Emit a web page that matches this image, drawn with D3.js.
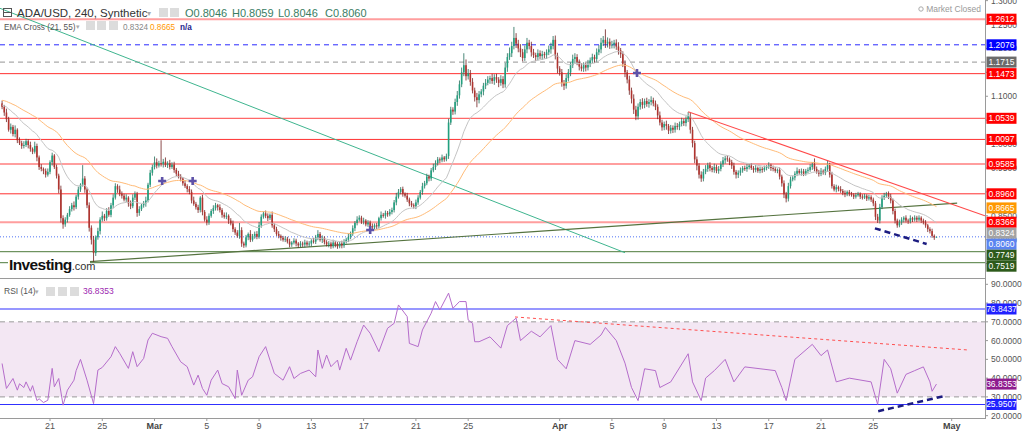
<!DOCTYPE html>
<html><head><meta charset="utf-8">
<script src="https://cdn.jsdelivr.net/npm/d3@7"></script>
<style>body{margin:0;background:#fff;overflow:hidden}svg{display:block;font-family:"Liberation Sans",Arial,sans-serif}</style>
</head><body><svg id="c" width="1024" height="431"></svg>
<script>
// ---------- DATA ----------
const firstCandle = Date.UTC(2022,1,17,8);
const stepHours = 4;
const firstOpen = 1.085;
const closes = [
1.078,1.066,1.052,1.030,1.036,1.021,1.030,1.008,1.002,0.996,
0.998,1.006,0.998,0.990,0.984,0.996,0.972,0.952,0.948,0.944,
0.936,0.942,0.962,0.976,0.952,0.934,0.905,0.845,0.832,0.842,
0.852,0.864,0.872,0.868,0.890,0.905,0.915,0.928,0.905,0.872,
0.825,0.800,0.772,0.805,0.818,0.842,0.850,0.845,0.860,0.852,
0.872,0.888,0.912,0.905,0.896,0.892,0.884,0.888,0.876,0.870,
0.888,0.896,0.856,0.864,0.872,0.876,0.882,0.915,0.940,0.952,
0.962,0.955,0.960,0.958,0.963,0.956,0.960,0.952,0.957,0.946,
0.938,0.932,0.928,0.918,0.912,0.906,0.900,0.882,0.875,0.868,
0.862,0.888,0.858,0.842,0.836,0.850,0.860,0.866,0.872,0.868,
0.862,0.852,0.848,0.850,0.840,0.834,0.822,0.815,0.808,0.820,
0.792,0.788,0.805,0.812,0.800,0.808,0.812,0.806,0.830,0.848,
0.855,0.850,0.845,0.852,0.830,0.822,0.812,0.808,0.804,0.800,
0.802,0.796,0.790,0.794,0.798,0.792,0.788,0.792,0.790,0.794,
0.790,0.792,0.798,0.796,0.805,0.812,0.800,0.804,0.795,0.790,
0.792,0.786,0.794,0.790,0.786,0.792,0.788,0.796,0.800,0.806,
0.812,0.824,0.835,0.842,0.846,0.838,0.840,0.832,0.836,0.828,
0.826,0.830,0.828,0.845,0.852,0.850,0.856,0.853,0.858,0.862,
0.878,0.890,0.900,0.906,0.896,0.892,0.884,0.876,0.872,0.870,
0.878,0.888,0.900,0.912,0.918,0.932,0.928,0.945,0.952,0.960,
0.968,0.966,0.972,0.968,0.975,1.045,1.072,1.068,1.088,1.102,
1.125,1.150,1.165,1.142,1.148,1.130,1.112,1.098,1.092,1.104,
1.110,1.122,1.128,1.135,1.138,1.132,1.140,1.135,1.128,1.136,
1.125,1.160,1.182,1.190,1.205,1.222,1.210,1.200,1.192,1.180,
1.198,1.212,1.205,1.192,1.186,1.182,1.190,1.184,1.188,1.186,
1.192,1.198,1.205,1.218,1.185,1.158,1.150,1.128,1.122,1.138,
1.150,1.165,1.178,1.182,1.172,1.162,1.158,1.165,1.160,1.168,
1.175,1.182,1.178,1.192,1.198,1.212,1.218,1.210,1.214,1.206,
1.208,1.212,1.204,1.196,1.188,1.168,1.150,1.135,1.112,1.095,
1.072,1.058,1.078,1.088,1.082,1.090,1.084,1.088,1.092,1.085,
1.078,1.060,1.045,1.035,1.042,1.038,1.028,1.034,1.030,1.038,
1.036,1.042,1.048,1.044,1.052,1.058,1.030,1.002,0.968,0.955,
0.936,0.928,0.942,0.948,0.956,0.950,0.946,0.952,0.944,0.948,
0.958,0.966,0.970,0.968,0.962,0.955,0.942,0.936,0.940,0.945,
0.950,0.948,0.952,0.955,0.950,0.946,0.950,0.944,0.948,0.946,
0.950,0.952,0.956,0.950,0.948,0.944,0.946,0.932,0.918,0.895,
0.886,0.912,0.926,0.930,0.938,0.944,0.940,0.943,0.938,0.944,
0.946,0.952,0.958,0.948,0.942,0.938,0.944,0.940,0.948,0.956,
0.936,0.912,0.905,0.910,0.906,0.902,0.898,0.895,0.900,0.896,
0.894,0.890,0.893,0.896,0.890,0.888,0.892,0.886,0.889,0.884,
0.876,0.848,0.840,0.868,0.888,0.892,0.896,0.890,0.882,0.860,
0.840,0.830,0.836,0.842,0.846,0.840,0.838,0.845,0.842,0.846,
0.842,0.846,0.840,0.836,0.830,0.822,0.818,0.808,0.8046,0.8060];
// wick extents beyond the body, in thousandths of a dollar
const wickUp = [
6,4,8,5,7,4,9,3,6,5, 8,5,4,7,3,9,5,4,6,3, 5,7,4,6,3,5,4,8,6,5, 4,6,5,8,4,6,3,28,5,4,
6,5,8,4,7,5,9,4,6,8, 5,7,6,4,8,5,4,7,3,6, 7,5,4,6,3,5,8,4,6,5, 12,8,5,48,6,9,4,7,5,6,
4,6,5,3,7,4,6,5,8,4, 5,3,6,4,7,5,4,6,5,3, 6,4,5,7,3,5,6,4,5,15, 6,4,5,3,8,4,5,6,7,5,
4,6,5,3,7,4,5,6,3,4, 5,4,6,3,5,4,3,5,4,6, 4,5,3,6,5,8,4,5,3,4, 5,4,6,3,5,4,6,5,4,7,
5,6,4,7,5,4,6,3,5,4, 6,4,5,3,7,4,5,4,6,5, 5,8,6,4,5,3,6,4,5,4, 6,5,4,7,5,6,4,5,7,6,
5,4,6,3,5,8,6,5,7,9, 8,10,25,12,9,7,8,6,9,7, 5,6,8,7,5,9,6,7,5,8, 6,10,8,12,9,23,10,8,9,7,
8,10,6,9,7,5,8,6,7,5, 6,8,7,8,9,6,5,7,6,8, 7,6,9,8,6,5,7,6,5,8, 6,7,5,8,9,10,8,22,9,7,
8,6,7,9,5,6,7,5,8,6, 9,8,7,6,8,5,7,6,8,5, 6,5,8,6,5,7,4,6,5,7, 6,5,7,5,6,9,8,6,5,6,
5,7,6,8,5,6,4,7,5,6, 6,7,5,6,4,5,6,4,5,6, 4,5,6,3,5,4,6,3,5,4, 5,4,6,3,5,4,3,5,4,6,
5,7,6,4,5,7,4,6,5,4, 5,6,4,12,5,4,6,3,5,10, 5,6,4,5,3,6,4,5,3,4, 4,3,5,4,3,5,4,3,5,4,
4,5,6,7,5,6,4,5,6,4, 5,4,6,5,3,5,4,6,3,5, 4,5,3,4,5,3,4,5,3,0];
const wickDn = [
5,7,6,4,8,5,7,6,4,6, 5,4,7,6,5,4,8,6,5,7, 6,4,5,7,4,6,8,9,9,5, 6,4,5,7,4,6,5,4,7,6,
8,10,18,6,5,7,4,6,5,4, 5,6,4,7,5,6,4,5,7,6, 4,5,8,6,4,5,7,4,5,6, 5,6,4,5,7,4,6,5,4,6,
5,4,6,5,4,7,5,6,4,5, 6,5,7,4,6,5,4,6,5,7, 5,6,4,5,7,4,6,5,4,6, 7,5,4,6,5,4,6,5,4,5,
4,5,6,4,5,6,4,5,6,4, 5,4,6,5,4,6,5,4,5,6, 4,5,6,4,5,6,4,7,5,4, 6,5,4,6,5,4,6,5,4,5,
5,4,6,5,4,5,6,4,5,6, 4,5,6,4,5,4,6,5,4,5, 5,6,4,5,6,4,5,6,4,5, 6,5,4,6,5,4,6,5,4,6,
5,6,4,5,4,6,5,7,6,8, 7,6,8,9,7,8,6,9,15,7, 6,8,7,5,9,6,8,7,9,6, 8,7,9,6,8,7,9,8,10,7,
6,8,7,9,6,8,7,6,8,7, 8,6,9,7,8,10,7,8,9,6, 7,8,6,9,7,8,6,7,8,6, 7,6,8,7,6,8,7,9,8,7,
6,8,7,9,8,7,10,8,9,10, 9,8,7,6,8,7,6,8,7,6, 7,8,6,7,6,8,7,6,7,6, 6,7,5,6,7,6,8,9,8,10,
8,7,6,5,6,7,5,6,5,6, 5,6,7,5,6,7,6,8,7,6, 5,4,6,5,4,6,5,4,5,6, 4,5,4,6,5,4,5,6,7,8,
8,6,5,4,6,5,4,6,5,4, 5,4,6,5,4,6,5,4,5,6, 6,5,4,6,5,4,5,6,4,5, 4,5,4,3,5,4,3,5,4,5,
6,7,5,6,4,5,4,5,6,7, 6,5,4,5,6,4,5,4,5,4, 5,4,5,4,5,6,5,4,5,0];
const emaSeeds = [1.082, 1.092];          // EMA(21), EMA(55) values just before the first candle
const emaLast = ["0.8324", "0.8665"];
// RSI(14): candle index and value
const rsiIdx = [0,2,5,7,8,10,11,13,14,16,17,19,21,23,24,26,28,30,33,34,36,39,42,44,46,50,52,54,58,60,62,65,67,69,73,76,78,82,85,88,90,92,94,96,99,101,104,107,108,110,113,115,118,121,123,125,129,132,134,137,141,144,145,147,149,151,154,155,158,160,163,166,169,173,177,180,182,186,187,191,193,197,199,201,205,207,210,213,214,216,217,219,
224,229,232,236,238,243,247,252,255,259,263,270,275,277,282,286,289,292,295,300,302,307,315,317,321,323,327,332,336,341,348,355,358,360,364,372,376,379,383,389,399,402,405,408,411,415,419,423,426,427,429];
const rsiVal = [47.8,34.5,39.8,33.6,37,35,38,33,36,28,29,27,28.2,45.2,35.4,39.8,25.6,33.6,38.9,44,50,38.9,26.4,44.3,45.7,51.4,56.8,53.2,45.2,54.1,46.1,50.5,60.3,63.9,62.1,61.2,56.8,48.7,46.1,36.3,41.6,34.5,30.9,38.9,44.3,37.1,35.4,29.1,44.3,30.9,38.9,40.7,51.4,56.8,49.6,42.5,38.9,46.1,39.8,42.5,44.3,40.7,55,45.2,52.3,46.1,49.6,44.3,55.9,49.6,59.4,68.3,63.9,54.1,66.6,69.2,79,72.8,58.5,56.8,65.7,74.6,80.8,76.4,85.3,77.2,80.8,80.8,71,69.2,59.4,59.4,
62,56,68,72,60,65,62,68,50,45,60,58,63,67,60,48,35,28,45,44,35,38,53,38,28,40,44,50,38,46,45,44,35,28,50,58,52,55,38,40,38,26,50,45,32,42,44,46,38,33,36.8353];
const rsiLast = "36.8353";
// horizontal price levels
const levelPrices = [1.2612, 1.2076, 1.1715, 1.1473, 1.0539, 1.0097, 0.9585, 0.8960, 0.8366, 0.7749, 0.7519];
const lastPrice = 0.8060;
const rsiLevels = [76.8437, 25.9507];
const rsiBand = [70, 30];
// drawn trend lines: [[date, value],[date, value]]
const teal = [[Date.UTC(2022,1,17,4), 1.284], [Date.UTC(2022,3,6,0), 0.7728]];
const support = [[Date.UTC(2022,1,24,1), 0.7540], [Date.UTC(2022,4,1,10), 0.8767]];
const resist = [[Date.UTC(2022,3,10,20), 1.0677], [Date.UTC(2022,4,3,13), 0.8502]];
const navyMain = [[Date.UTC(2022,3,25,3), 0.8238], [Date.UTC(2022,3,29,2), 0.7910]];
const rsiRed = [[Date.UTC(2022,2,28,14), 72.6], [Date.UTC(2022,4,2,6), 55]];
const rsiNavy = [[Date.UTC(2022,3,25,9), 22.4], [Date.UTC(2022,3,30,10), 30.4]];
// EMA cross markers
const crossDates = [Date.UTC(2022,2,1,14), Date.UTC(2022,2,3,22), Date.UTC(2022,2,17,12), Date.UTC(2022,3,6,22)];
const crossPrices = [0.9228, 0.9228, 0.8203, 1.1486];
// axes
const priceTicks = [0.75,0.80,0.85,0.90,0.95,1.00,1.05,1.10,1.15,1.20,1.25,1.30];
const rsiTicks = [20,30,40,50,60,70,80,90];
const xTickDates = ["2022-02-21","2022-02-25","2022-03-01","2022-03-05","2022-03-09","2022-03-13","2022-03-17","2022-03-21","2022-03-25","2022-04-01","2022-04-05","2022-04-09","2022-04-13","2022-04-17","2022-04-21","2022-04-25","2022-05-01"];
const xTickLabels = ["21","25","Mar","5","9","13","17","21","25","Apr","5","9","13","17","21","25","May"];
const header = {sym:"ADA/USD, 240, Synthetic", o:"0.8046", h:"0.8059", l:"0.8046", c:"0.8060"};

// ---------- LAYOUT ----------
const svg = d3.select("#c");
const R = 985, mainB = 278, rsiT = 279, rsiB = 418;
const x = d3.scaleUtc().domain([Date.UTC(2022,1,21), Date.UTC(2022,4,1)]).range([50, 951.7]);
const y = d3.scaleLinear().domain([0.7519, 1.0539]).range([262.7, 118.3]);
const yr = d3.scaleLinear().domain([25.9507, 76.8437]).range([404.5, 309.0]);

const defs = svg.append("defs");
defs.append("clipPath").attr("id","cm").append("rect").attr("x",0).attr("y",0).attr("width",R).attr("height",mainB);
defs.append("clipPath").attr("id","cr").append("rect").attr("x",0).attr("y",rsiT).attr("width",R).attr("height",rsiB-rsiT);

const candles = closes.map((c,i)=>{
  const o = i===0 ? firstOpen : closes[i-1];
  return {t:new Date(firstCandle + i*stepHours*3600e3), o, c,
    h: Math.max(o,c) + wickUp[i]/1000, l: Math.min(o,c) - wickDn[i]/1000};
});
function ema(vals, n, seed){ const a = 2/(n+1); let e = seed; return vals.map(v => (e = e + a*(v-e))); }
const e21 = ema(closes, 21, emaSeeds[0]);
const e55 = ema(closes, 55, emaSeeds[1]);

const gm = svg.append("g").attr("clip-path","url(#cm)");
const levelStyle = [
 {s:"rgba(255,40,40,0.45)", w:2},{s:"#2a2aff", w:1, d:"5,4"},{s:"#aaaaaa", w:1.2, d:"5,4"},{s:"#ff3030", w:1},
 {s:"rgba(255,40,40,0.7)", w:1.3},{s:"#ff3030", w:1},{s:"rgba(255,40,40,0.45)", w:2},{s:"#ff3030", w:1},
 {s:"rgba(255,40,40,0.45)", w:2},{s:"#4d7a3a", w:1},{s:"#4d7a3a", w:1}];
levelPrices.forEach((p,i)=>{
  const st = levelStyle[i];
  gm.append("line").attr("x1",0).attr("x2",R).attr("y1",y(p)).attr("y2",y(p))
    .attr("stroke",st.s).attr("stroke-width",st.w).attr("stroke-dasharray",st.d||null);
});
gm.append("line").attr("x1",0).attr("x2",R).attr("y1",y(lastPrice)).attr("y2",y(lastPrice))
  .attr("stroke","#4f74f5").attr("stroke-width",1).attr("stroke-dasharray","1,2");

function seg(g, pts, sc, stroke, w, dash){
  g.append("line").attr("x1",x(pts[0][0])).attr("y1",sc(pts[0][1])).attr("x2",x(pts[1][0])).attr("y2",sc(pts[1][1]))
   .attr("stroke",stroke).attr("stroke-width",w).attr("stroke-dasharray",dash||null);
}
seg(gm, teal, y, "#3fb58f", 1);
seg(gm, support, y, "#55733f", 1.2);

const cw = 1.6;
const cg = gm.append("g");
candles.forEach(d=>{
  const up = d.c >= d.o;
  const cx = x(d.t);
  cg.append("line").attr("x1",cx).attr("x2",cx).attr("y1",y(d.h)).attr("y2",y(d.l))
    .attr("stroke", up ? "#1f6b58" : "#6e2020").attr("stroke-width",0.8);
  const top = y(Math.max(d.o,d.c)), bot = y(Math.min(d.o,d.c));
  cg.append("rect").attr("x",cx-cw/2).attr("y",top).attr("width",cw).attr("height",Math.max(0.8,bot-top))
    .attr("fill", up ? "#22a07f" : "#b0342f");
});
const ln = d3.line().x((d,i)=>x(candles[i].t)).y(d=>y(d));
gm.append("path").attr("d",ln(e21)).attr("fill","none").attr("stroke","#c4c4c4").attr("stroke-width",1);
gm.append("path").attr("d",ln(e55)).attr("fill","none").attr("stroke","#ffbb77").attr("stroke-width",1);
seg(gm, resist, y, "#ff4a4a", 1.1);
seg(gm, navyMain, y, "#1c1c80", 2.5, "6,4");
crossDates.forEach((t,i)=>{
  const cx = x(new Date(t)), cy = y(crossPrices[i]);
  gm.append("path").attr("d",`M${cx-4},${cy}H${cx+4}M${cx},${cy-4}V${cy+4}`)
    .attr("stroke","#5e52a8").attr("stroke-width",2.6);
});

// logo
svg.append("rect").attr("x",8).attr("y",256).attr("width",82).attr("height",15).attr("fill","#fff");
const logo = svg.append("text").attr("x",9).attr("y",269.5);
logo.append("tspan").attr("font-size",15.5).attr("font-weight","bold").attr("fill","#111").attr("letter-spacing","-0.6").text("Investing");
logo.append("tspan").attr("font-size",11).attr("fill","#333").text(".com");

// ---------- RSI PANEL ----------
const gr = svg.append("g").attr("clip-path","url(#cr)");
gr.append("rect").attr("x",0).attr("width",R).attr("y",yr(rsiBand[0])).attr("height",yr(rsiBand[1])-yr(rsiBand[0])).attr("fill","#f3e7f3");
rsiBand.forEach(v=>gr.append("line").attr("x1",0).attr("x2",R).attr("y1",yr(v)).attr("y2",yr(v))
  .attr("stroke","#9a9a9a").attr("stroke-dasharray","5,4").attr("stroke-width",1));
rsiLevels.forEach(v=>gr.append("line").attr("x1",0).attr("x2",R).attr("y1",yr(v)).attr("y2",yr(v))
  .attr("stroke","#3030ff").attr("stroke-width",1.2));
const rl = d3.line().x(d=>x(candles[d[0]].t)).y(d=>yr(d[1]));
gr.append("path").attr("d",rl(rsiIdx.map((k,i)=>[k,rsiVal[i]]))).attr("fill","none").attr("stroke","#b56dcb").attr("stroke-width",1);
seg(gr, rsiRed, yr, "#ff5050", 1, "3,3");
seg(gr, rsiNavy, yr, "#1c1c80", 2.5, "6,4");

// ---------- FRAMES / AXES ----------
svg.append("line").attr("x1",0).attr("x2",R).attr("y1",mainB+0.5).attr("y2",mainB+0.5).attr("stroke","#9a9a9a");
svg.append("line").attr("x1",0).attr("x2",R).attr("y1",rsiB+0.5).attr("y2",rsiB+0.5).attr("stroke","#9a9a9a");
svg.append("line").attr("x1",R+0.5).attr("x2",R+0.5).attr("y1",0).attr("y2",rsiB+1).attr("stroke","#9a9a9a");

// value labels on the right axis, pushed apart when they would overlap
const labelColors = ["#ff0000","#0000ff","#6b6b6b","#ff0000","#ff0000","#ff0000","#ff0000","#ff0000","#ff0000","#2d5a1b","#2d5a1b"];
let labs = levelPrices.map((p,i)=>({v:p, txt:p.toFixed(4), col:labelColors[i]}));
labs.push({v:+emaLast[1], txt:emaLast[1], col:"#ff9800"});
labs.push({v:+emaLast[0], txt:emaLast[0], col:"#a3a3a3"});
labs.push({v:lastPrice, txt:lastPrice.toFixed(4), col:"#5b84f0"});
labs.forEach(d=>d.y=y(d.v));
labs.sort((a,b)=>a.y-b.y);
for (let i=1;i<labs.length;i++) if (labs[i].y < labs[i-1].y+11) labs[i].y = labs[i-1].y+11;
const rsiLabs = [{v:rsiLevels[0],txt:rsiLevels[0].toFixed(4),col:"#2020ff"},{v:+rsiLast,txt:rsiLast,col:"#8e1b8e"},{v:rsiLevels[1],txt:rsiLevels[1].toFixed(4),col:"#2020ff"}];
rsiLabs.forEach(d=>d.y=yr(d.v));
const allLabs = labs.concat(rsiLabs);
const hidden = yy => allLabs.some(d => Math.abs(d.y-yy) < 3);

const axFont = 8.5;
function tickLabel(yy, txt){
  svg.append("line").attr("x1",R).attr("x2",R+3).attr("y1",yy).attr("y2",yy).attr("stroke","#999");
  if (hidden(yy)) return;
  svg.append("text").attr("x",991).attr("y",yy).attr("dy","0.35em").attr("font-size",axFont).attr("fill","#555").text(txt);
}
priceTicks.forEach(p=>{ const yy = y(p); if (yy < -2 || yy > mainB-3) return; tickLabel(yy, p.toFixed(4)); });
rsiTicks.forEach(v=> tickLabel(yr(v), v.toFixed(4)));
xTickDates.forEach((ds,i)=>{
  const xx = x(new Date(ds+"T00:00:00Z"));
  svg.append("line").attr("x1",xx).attr("x2",xx).attr("y1",rsiB).attr("y2",rsiB+3).attr("stroke","#999");
  const bold = isNaN(+xTickLabels[i]);
  svg.append("text").attr("x",xx).attr("y",429).attr("text-anchor","middle").attr("font-size",9)
    .attr("font-weight",bold?"bold":"normal").attr("fill",bold?"#444":"#555").text(xTickLabels[i]);
});

function tag(d){
  svg.append("rect").attr("x",986.5).attr("y",d.y-5.5).attr("width",30).attr("height",11).attr("fill",d.col);
  svg.append("text").attr("x",1001.5).attr("y",d.y).attr("dy","0.35em").attr("text-anchor","middle")
    .attr("font-size",8.5).attr("fill","#fff").text(d.txt);
}
allLabs.forEach(tag);

// ---------- HEADERS ----------
function icon(xx,yy){ svg.append("rect").attr("x",xx).attr("y",yy).attr("width",9).attr("height",9).attr("fill","#dcdcdc"); }
svg.append("rect").attr("x",3.5).attr("y",8.5).attr("width",8).attr("height",8).attr("fill","none").attr("stroke","#555");
svg.append("line").attr("x1",3.5).attr("x2",11.5).attr("y1",12.5).attr("y2",12.5).attr("stroke","#555");
svg.append("text").attr("x",17).attr("y",17).attr("font-size",11.5).attr("fill","#333").text(header.sym);
svg.append("text").attr("x",147).attr("y",16).attr("font-size",8).attr("fill","#aaa").text("▾");
icon(159,8); icon(170,8);
[["O",header.o,185],["H",header.h,232],["L",header.l,278],["C",header.c,325]].forEach(a=>{
  svg.append("text").attr("x",a[2]).attr("y",17).attr("font-size",11).attr("fill","#3a7d63").text(a[0]+a[1]);
});
svg.append("text").attr("x",4).attr("y",29.5).attr("font-size",8.2).attr("fill","#555").text("EMA Cross (21, 55)");
svg.append("text").attr("x",76).attr("y",29).attr("font-size",7).attr("fill","#aaa").text("▾");
icon(86,21); icon(97,21); icon(109,21);
svg.append("text").attr("x",123).attr("y",29.5).attr("font-size",8.2).attr("fill","#888").text(emaLast[0]);
svg.append("text").attr("x",150).attr("y",29.5).attr("font-size",8.2).attr("fill","#ff9800").text(emaLast[1]);
svg.append("text").attr("x",180).attr("y",29.5).attr("font-size",8.2).attr("font-weight","bold").attr("fill","#23238c").text("n/a");
svg.append("circle").attr("cx",921).attr("cy",9).attr("r",2.2).attr("fill","none").attr("stroke","#aaa");
svg.append("text").attr("x",981).attr("y",12).attr("text-anchor","end").attr("font-size",8.5).attr("fill","#999").text("Market Closed");

svg.append("text").attr("x",4).attr("y",294).attr("font-size",8.5).attr("fill","#555").text("RSI (14)");
svg.append("text").attr("x",35).attr("y",293.5).attr("font-size",7).attr("fill","#aaa").text("▾");
icon(46,287); icon(58,287); icon(70,287);
svg.append("text").attr("x",83).attr("y",294).attr("font-size",8.5).attr("fill","#9c27b0").text(rsiLast);
</script></body></html>
